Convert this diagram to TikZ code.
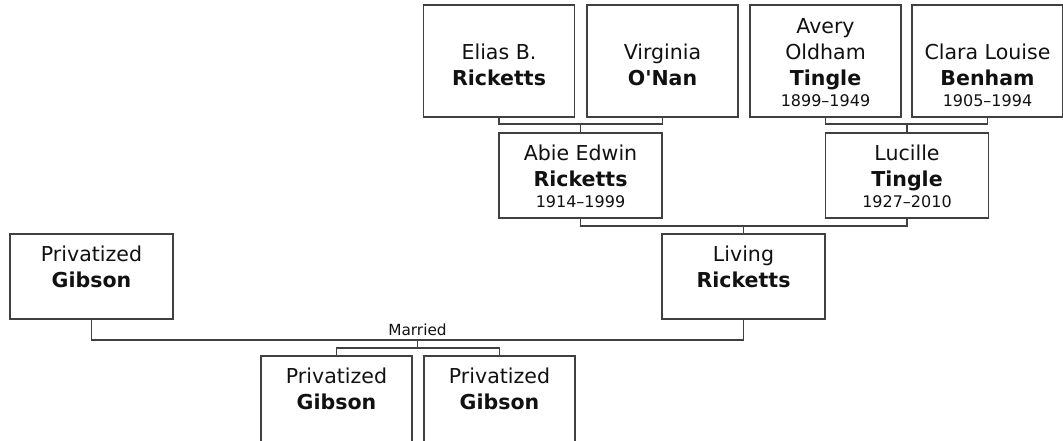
\documentclass[tikz,border=0pt]{standalone}
\usepackage{fontspec}
\setmainfont{DejaVu Sans}
\usepackage{tikz}
\usetikzlibrary{calc}
\definecolor{boxline}{HTML}{404040}
\definecolor{inkname}{HTML}{111111}
\newcommand{\yrs}[1]{{\fontsize{12}{15}\selectfont #1\strut}}

\begin{document}
\begin{tikzpicture}[
  x=0.75pt, y=-0.75pt,
  pbox/.style={rectangle, draw=boxline, line width=1pt, inner sep=0pt, outer sep=0pt, minimum width=113.25pt, minimum height=84pt},
  cbox/.style={pbox, minimum width=122.25pt, minimum height=63.75pt},
  kbox/.style={pbox, minimum height=65.25pt},
  ptxt/.style={anchor=south, inner sep=0pt, align=center, text=inkname, font=\fontsize{15.4}{19.5}\selectfont},
  link/.style={draw=boxline, line width=1pt}
]
\useasboundingbox (0,0) rectangle (1063,441);
% Grandparents
\node[pbox] (elias) at (499,61) {};
\node[ptxt] (elias-t) at ([yshift=2.8pt]elias.south) {Elias B.\\\textbf{Ricketts}\\[-3.5pt]\yrs{}};
\node[pbox] (virginia) at (662.5,61) {};
\node[ptxt] (virginia-t) at ([yshift=2.8pt]virginia.south) {Virginia\\\textbf{O\textquotesingle Nan}\\[-3.5pt]\yrs{}};
\node[pbox] (avery) at (825.5,61) {};
\node[ptxt] (avery-t) at ([yshift=2.8pt]avery.south) {Avery\\Oldham\\\textbf{Tingle}\\[-3.5pt]\yrs{1899–1949}};
\node[pbox] (clara) at (987.5,61) {};
\node[ptxt] (clara-t) at ([yshift=2.8pt]clara.south) {Clara Louise\\\textbf{Benham}\\[-3.5pt]\yrs{1905–1994}};
% Parents
\node[cbox] (abie) at (580.5,175.5) {};
\node[ptxt] (abie-t) at ([yshift=2.8pt]abie.south) {Abie Edwin\\\textbf{Ricketts}\\[-3.5pt]\yrs{1914–1999}};
\node[cbox] (lucille) at (907,175.5) {};
\node[ptxt] (lucille-t) at ([yshift=2.8pt]lucille.south) {Lucille\\\textbf{Tingle}\\[-3.5pt]\yrs{1927–2010}};
\draw[link] (elias.south) -- ++(0,7) -| (virginia.south);
\draw[link] (abie.north) -- ++(0,-9);
\draw[link] (avery.south) -- ++(0,7) -| (clara.south);
\draw[link] (lucille.north) -- ++(0,-9);
% Couple
\node[cbox] (gibson) at (91.5,276.5) {};
\node[ptxt] (gibson-t) at ([yshift=2.8pt]gibson.south) {Privatized\\\textbf{Gibson}\\[-3.5pt]\yrs{}};
\node[cbox] (living) at (743.5,276.5) {};
\node[ptxt] (living-t) at ([yshift=2.8pt]living.south) {Living\\\textbf{Ricketts}\\[-3.5pt]\yrs{}};
\draw[link] (abie.south) -- ++(0,8) -| (lucille.south);
\draw[link] (living.north) -- ++(0,-8);
\draw[link] (gibson.south) -- ++(0,21) coordinate (gl)
  -- (gl -| living.south) node[midway, above, inner sep=2.5pt, text=inkname, font=\fontsize{11.5}{14}\selectfont] (wed) {Married} coordinate[midway] (wedmid)
  -- (living.south);
% Children
\node[kbox] (kid1) at (336.5,399.5) {};
\node[ptxt] (kid1-t) at ([yshift=4.3pt]kid1.south) {Privatized\\\textbf{Gibson}\\[-3.5pt]\yrs{}};
\node[kbox] (kid2) at (499.5,399.5) {};
\node[ptxt] (kid2-t) at ([yshift=4.3pt]kid2.south) {Privatized\\\textbf{Gibson}\\[-3.5pt]\yrs{}};
\draw[link] (wedmid) -- ++(0,8);
\draw[link] (kid1.north) -- ++(0,-8) -| (kid2.north);
\end{tikzpicture}
\end{document}
